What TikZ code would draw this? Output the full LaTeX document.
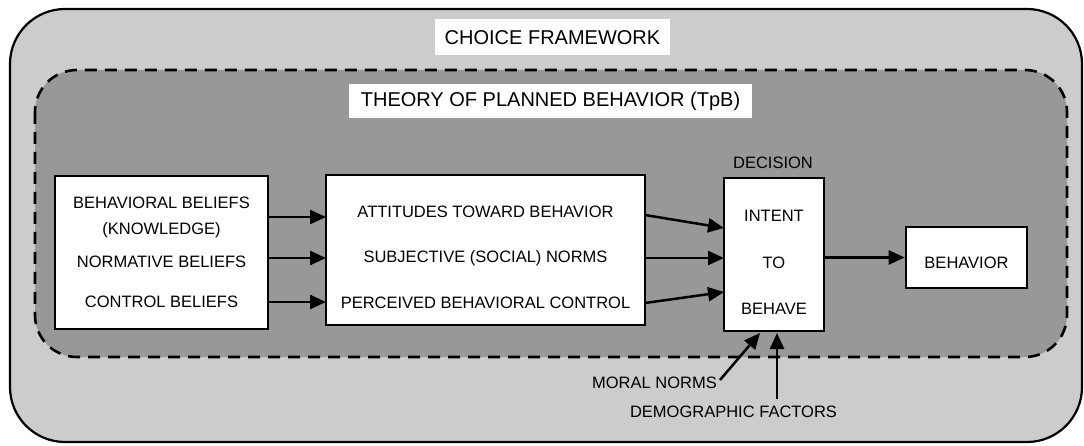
\documentclass[tikz,border=0pt]{standalone}
\usepackage{fontspec}
\setmainfont{Liberation Sans}
\usetikzlibrary{arrows.meta}
\definecolor{outerfill}{HTML}{CCCCCC}
\definecolor{innerfill}{HTML}{989898}
\begin{document}
\begin{tikzpicture}[x=1pt,y=-1pt,
  box/.style={draw=black,line width=2.6pt,fill=white,inner sep=0pt},
  txt/.style={font=\fontsize{16.5}{19}\selectfont,inner sep=0pt,anchor=center},
  ttl/.style={fill=white,font=\fontsize{20}{24}\selectfont,inner sep=0pt},
  arr/.style={line width=2.5pt,-{Triangle[length=16pt,width=14pt]}}]
\useasboundingbox (0,0) rectangle (1084,446);
% frames
\draw[line width=2.2pt,fill=outerfill,rounded corners=55pt] (10,9) rectangle (1082,442);
\draw[line width=2.6pt,fill=innerfill,dash pattern=on 12pt off 8pt,rounded corners=42pt] (35,70) rectangle (1067,357);
% titles
\node[ttl,minimum width=235pt,minimum height=36pt] (cf) at (552.5,37.5) {CHOICE FRAMEWORK};
\node[ttl,minimum width=403pt,minimum height=34pt] (tpb) at (550.5,101) {THEORY OF PLANNED BEHAVIOR (TpB)};
% boxes
\node[box,minimum width=213pt,minimum height=153pt] (lb) at (161.5,252.5) {};
\node[box,minimum width=319pt,minimum height=150pt] (mb) at (485.5,250) {};
\node[box,minimum width=100pt,minimum height=153pt] (db) at (774,254.5) {};
\node[box,minimum width=121pt,minimum height=61pt] (bb) at (966.5,257.5) {};
% texts
\node[txt] (l1) at (161.5,203) {BEHAVIORAL BELIEFS};
\node[txt] (l2) at (161.5,230) {(KNOWLEDGE)};
\node[txt] (l3) at (161.5,262) {NORMATIVE BELIEFS};
\node[txt] (l4) at (161.5,302) {CONTROL BELIEFS};
\node[txt] (m1) at (485.5,212) {ATTITUDES TOWARD BEHAVIOR};
\node[txt] (m2) at (485.5,258) {SUBJECTIVE (SOCIAL) NORMS};
\node[txt] (m3) at (485.5,303) {PERCEIVED BEHAVIORAL CONTROL};
\node[txt] (dl) at (773,163) {DECISION};
\node[txt] (d1) at (774,216) {INTENT};
\node[txt] (d2) at (774,263) {TO};
\node[txt] (d3) at (774,309) {BEHAVE};
\node[txt] (b1) at (966.5,263) {BEHAVIOR};
\node[txt,anchor=east] (mn) at (717,383) {MORAL NORMS};
\node[txt] (df) at (733.5,412) {DEMOGRAPHIC FACTORS};
% connector coordinates
\coordinate (la1) at (268,217);
\coordinate (la2) at (268,258);
\coordinate (la3) at (268,302);
\coordinate (ma1) at (326,217);
\coordinate (ma2) at (326,258);
\coordinate (ma3) at (326,302);
\coordinate (mo1) at (645,215);
\coordinate (mo2) at (645,258);
\coordinate (mo3) at (645,303);
\coordinate (di1) at (724,228);
\coordinate (di2) at (724,258);
\coordinate (di3) at (724,292);
\coordinate (mns) at (720,380);
\coordinate (mne) at (760,333);
\coordinate (dfs) at (777,399);
\coordinate (dfe) at (777,333);
% connectors
\draw[arr] (la1) -- (ma1);
\draw[arr] (la2) -- (ma2);
\draw[arr] (la3) -- (ma3);
\draw[arr] (mo1) -- (di1);
\draw[arr] (mo2) -- (di2);
\draw[arr] (mo3) -- (di3);
\draw[arr] (db.east |- bb.west) -- (bb.west);
\draw[arr] (mns) -- (mne);
\draw[arr] (dfs) -- (dfe);
\end{tikzpicture}
\end{document}
